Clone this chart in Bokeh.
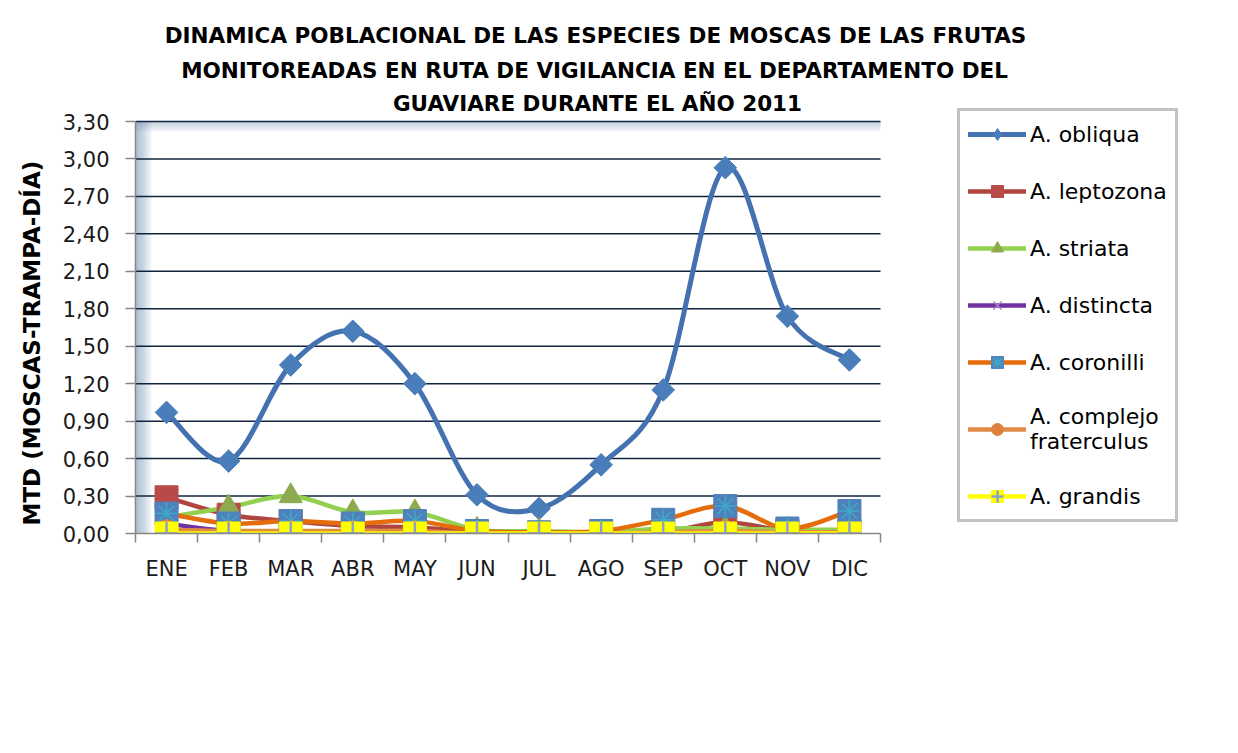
import math
from bokeh.plotting import figure
from bokeh.models import Range1d, FixedTicker, Legend, LegendItem, BoxAnnotation, Title
from bokeh.embed import file_html
from bokeh.resources import INLINE
from bokeh.core.properties import value

# ---------------- data ----------------
title_lines = [
    "DINAMICA POBLACIONAL DE LAS ESPECIES DE MOSCAS DE LAS FRUTAS",
    "MONITOREADAS EN RUTA DE VIGILANCIA EN EL DEPARTAMENTO DEL",
    "GUAVIARE DURANTE EL AÑO 2011",
]
y_label = "MTD (MOSCAS-TRAMPA-DÍA)"
months = ["ENE", "FEB", "MAR", "ABR", "MAY", "JUN", "JUL", "AGO", "SEP", "OCT", "NOV", "DIC"]

obliqua    = [0.97, 0.58, 1.35, 1.62, 1.20, 0.31, 0.20, 0.55, 1.15, 2.93, 1.74, 1.39]
leptozona  = [0.29, 0.15, 0.10, 0.06, 0.05, 0.01, 0.00, 0.00, 0.01, 0.09, 0.02, 0.02]
striata    = [0.13, 0.21, 0.30, 0.17, 0.17, 0.03, 0.02, 0.01, 0.04, 0.04, 0.03, 0.03]
distincta  = [0.08, 0.02, 0.02, 0.01, 0.01, 0.00, 0.00, 0.00, 0.00, 0.01, 0.00, 0.00]
coronilli  = [0.16, 0.08, 0.10, 0.08, 0.10, 0.02, 0.01, 0.02, 0.11, 0.22, 0.04, 0.18]
complejo   = [0.03, 0.02, 0.02, 0.02, 0.02, 0.00, 0.00, 0.00, 0.01, 0.02, 0.01, 0.01]
grandis    = [0.00, 0.00, 0.00, 0.00, 0.00, 0.00, 0.00, 0.00, 0.00, 0.00, 0.00, 0.00]

series_names = ["A. obliqua", "A. leptozona", "A. striata", "A. distincta",
                "A. coronilli", "A. complejo\nfraterculus", "A. grandis"]
series_values = [obliqua, leptozona, striata, distincta, coronilli, complejo, grandis]

y_ticks = [0.0, 0.3, 0.6, 0.9, 1.2, 1.5, 1.8, 2.1, 2.4, 2.7, 3.0, 3.3]
y_tick_labels = ["0,00", "0,30", "0,60", "0,90", "1,20", "1,50", "1,80",
                 "2,10", "2,40", "2,70", "3,00", "3,30"]

# ---------------- styles ----------------
line_colors = ["#4471B0", "#B0443F", "#92D050", "#7030A0", "#E46C0A", "#E08A46", "#FFFF00"]
line_widths = [5, 4.5, 4.5, 4.5, 4.5, 4.5, 4.5]
marker_layers = [
    [("square", 16, "#4A7EBB", "#4A7EBB", 1, math.pi / 4)],
    [("square", 23, "#B94A48", "#B94A48", 1, 0)],
    [("triangle", 23, "#8EAA50", "#8EAA50", 1, 0)],
    [("x", 20, None, "#9F86C0", 1.2, 0)],
    [("square", 23, "#4F81BD", "#4F81BD", 1, 0), ("asterisk", 22, None, "#3FA8C4", 1.6, 0)],
    [("circle", 20, "#DE8140", "#DE8140", 1, 0)],
    [("square", 23, "#FFFF00", "#FFFF00", 1, 0), ("cross", 23, None, "#8DA2C4", 2.5, 0)],
]
# title line centres, in page pixels
title_px_x = [595, 594, 597]
title_px_y = [35, 70, 103]

FONT = "DejaVu Sans"
W, H = 1238, 753
FL, FR, FT, FB = 135, 880, 121, 533   # plot-area edges in pixels
FRAME_R = W - 2                       # frame spans to the right (legend) and to the top (title)

n = len(months)
ppx = (FR - FL) / n          # pixels per x unit
ppy = (FB - FT) / 3.3        # pixels per y unit
x_end = (FRAME_R - FL) / ppx
y_end = 3.3 + FT / ppy


def px_to_x(px):
    return (px - FL) / ppx


def px_to_y(py):
    return (FB - py) / ppy


p = figure(width=W, height=H, x_range=Range1d(0, x_end), y_range=Range1d(0, y_end),
           output_backend="svg", toolbar_location=None,
           min_border_left=FL, min_border_right=W - FRAME_R, min_border_top=0,
           min_border_bottom=H - FB)
p.outline_line_color = None
p.background_fill_color = "white"
p.border_fill_color = "white"

# title
p.text(x=[px_to_x(v) for v in title_px_x], y=[px_to_y(v) for v in title_px_y], text=title_lines,
       text_font=value(FONT), text_font_size="21.5px", text_font_style="bold",
       text_color="#000000", text_align="center", text_baseline="middle")

# plot-area gradient (left and top edges)
for k in range(8):
    p.add_layout(BoxAnnotation(left=0, right=(k + 1) * 2 / ppx, bottom=0, top=3.3,
                               fill_color="#6F8BB3", fill_alpha=0.09, line_color=None,
                               level="image"))
for k in range(5):
    p.add_layout(BoxAnnotation(left=0, right=n, bottom=3.3 - (k + 1) * 2 / ppy, top=3.3,
                               fill_color="#6F8BB3", fill_alpha=0.09, line_color=None,
                               level="image"))

xs = [i + 0.5 for i, _ in enumerate(months)]

# horizontal grid lines limited to the plot area
grid_y = y_ticks[1:]
p.segment(x0=[0] * len(grid_y), x1=[n] * len(grid_y), y0=grid_y, y1=grid_y,
          line_color="#10243E", line_width=1.5, level="underlay")
p.grid.grid_line_color = None

# y axis
p.yaxis.bounds = (0, 3.3)
p.yaxis.ticker = FixedTicker(ticks=y_ticks)
p.yaxis.major_label_overrides = dict(zip(y_ticks, y_tick_labels))
p.yaxis.major_tick_out = 10
p.yaxis.major_tick_in = 0
p.yaxis.minor_tick_line_color = None
p.yaxis.axis_line_color = "#868686"
p.yaxis.axis_line_width = 1.5
p.yaxis.major_tick_line_color = "#868686"
p.yaxis.major_tick_line_width = 1.5
p.yaxis.major_label_text_font = FONT
p.yaxis.major_label_text_font_size = "21px"
p.yaxis.major_label_text_color = "#1a1a1a"
p.yaxis.major_label_standoff = 16

# y-axis title, placed along the plot-area height (the frame also holds the chart title)
p.add_layout(Title(text=y_label, align="left", offset=8, standoff=28, vertical_align="middle",
                   text_font=FONT, text_font_size="23px", text_font_style="bold",
                   text_color="#000000"), "left")

# x axis
p.xaxis.bounds = (0, n)
p.xaxis.ticker = FixedTicker(ticks=xs, minor_ticks=list(range(n + 1)))
p.xaxis.major_label_overrides = dict(zip(xs, months))
p.xaxis.major_tick_out = 0
p.xaxis.major_tick_in = 0
p.xaxis.minor_tick_out = 9
p.xaxis.minor_tick_in = 0
p.xaxis.minor_tick_line_color = "#868686"
p.xaxis.minor_tick_line_width = 1.5
p.xaxis.axis_line_color = "#868686"
p.xaxis.axis_line_width = 1.5
p.xaxis.major_label_text_font = FONT
p.xaxis.major_label_text_font_size = "21px"
p.xaxis.major_label_text_color = "#1a1a1a"
p.xaxis.major_label_standoff = 14


def smooth_segments(x, y):
    """Bezier control points (Catmull-Rom style smoothing, like a smoothed Excel line)."""
    m = len(x)
    out = dict(x0=[], y0=[], x1=[], y1=[], cx0=[], cy0=[], cx1=[], cy1=[])
    for i in range(m - 1):
        a = max(i - 1, 0)
        d = min(i + 2, m - 1)
        out["x0"].append(x[i]); out["y0"].append(y[i])
        out["x1"].append(x[i + 1]); out["y1"].append(y[i + 1])
        out["cx0"].append(x[i] + (x[i + 1] - x[a]) / 6)
        out["cy0"].append(y[i] + (y[i + 1] - y[a]) / 6)
        out["cx1"].append(x[i + 1] - (x[d] - x[i]) / 6)
        out["cy1"].append(y[i + 1] - (y[d] - y[i]) / 6)
    return out


line_renderers = []
for vals, col, lw in zip(series_values, line_colors, line_widths):
    seg = smooth_segments(xs, vals)
    r = p.bezier(line_color=col, line_width=lw, line_cap="round", line_join="round", **seg)
    line_renderers.append(r)

marker_renderers = []
for vals, layers in zip(series_values, marker_layers):
    rs = []
    for (mk, sz, fill, lc, lw, ang) in layers:
        r = p.scatter(xs, vals, marker=mk, size=sz, fill_color=fill, line_color=lc,
                      line_width=lw, angle=ang)
        rs.append(r)
    marker_renderers.append(rs)

# legend swatch for the diamond series (legend does not rotate markers)
diamond_key = p.scatter(xs, obliqua, marker="diamond", size=24, fill_color="#4A7EBB",
                        line_color="#4A7EBB", visible=False)
marker_renderers[0] = [diamond_key]

items = [LegendItem(label=name, renderers=[lr] + mrs)
         for name, lr, mrs in zip(series_names, line_renderers, marker_renderers)]
legend = Legend(items=items, location=(957 - FL, 11), orientation="vertical",
                padding=8, margin=0, spacing=27, glyph_width=58, glyph_height=30,
                label_height=30, label_standoff=4, label_text_line_height=1.0,
                label_text_font=FONT, label_text_font_size="22px", label_text_color="#000000",
                border_line_color="#868686", border_line_width=3,
                background_fill_color="white", background_fill_alpha=1.0)
p.add_layout(legend, "center")

open("out.html", "w").write(file_html(p, INLINE))
